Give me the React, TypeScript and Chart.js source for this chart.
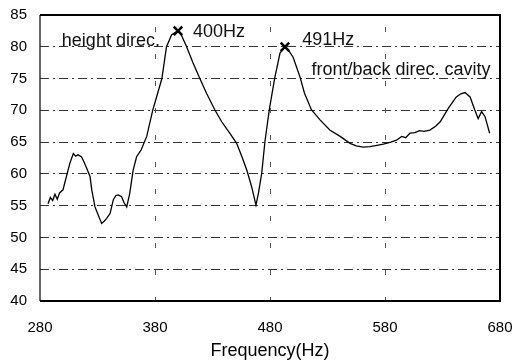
import React, { useEffect, useRef } from "react";
import { Chart, registerables } from "chart.js";

Chart.register(...registerables);

// Frequency response curve (Hz, value)
const freqHz: number[] = [
  287, 289, 291, 293, 295, 297, 300, 303, 306, 309, 311, 313, 316, 318, 320.6, 323.5, 325, 327.8,
  330.7, 333.6, 336, 338, 341, 343.7, 346, 348, 351, 353, 355.4, 358, 361, 364, 368, 372.8, 378,
  382, 386, 390, 394.5, 400, 403, 407.5, 413, 419, 425, 432, 438, 445, 451, 456, 460, 464, 467.8,
  470, 472.8, 475.6, 479.4, 484, 488.7, 493, 497, 500, 506, 510, 516, 523.5, 532, 541, 549.6, 555,
  561, 567, 573, 578.5, 585, 590, 594.5, 598, 601.7, 606, 610, 614, 619, 624, 628, 635, 642, 646,
  649.6, 654, 658, 661, 664, 667, 671,
];
const response: number[] = [
  55.3, 56.3, 55.8, 56.8, 56.0, 57.0, 57.5, 59.6, 61.7, 63.2, 62.8, 63.0, 62.7, 62.0, 60.9, 59.6, 57.5, 54.8,
  53.5, 52.2, 52.6, 53.0, 53.8, 55.9, 56.6, 56.7, 56.4, 55.5, 54.8, 56.9, 60.6, 62.7, 63.8, 65.9, 70.0,
  72.5, 75.0, 80.0, 81.9, 82.5, 81.8, 80.0, 77.5, 75.0, 72.6, 70.1, 68.2, 66.4, 64.8, 62.5, 60.5, 58.0, 55.1,
  57.0, 60.1, 65.1, 70.1, 75.0, 79.0, 80.0, 79.2, 78.4, 75.3, 72.7, 70.1, 68.5, 66.9, 65.9, 64.8, 64.4,
  64.2, 64.3, 64.5, 64.7, 65.0, 65.3, 65.9, 65.7, 66.4, 66.5, 66.8, 66.7, 66.9, 67.5, 68.2, 70.3, 72.1, 72.6,
  72.8, 72.1, 70.1, 68.7, 69.8, 69.0, 66.4,
];

// Peak markers
const peakHz: number[] = [400, 493];
const peakVal: number[] = [82.5, 80.0];

// Annotation texts and their anchor (data coordinates, left/baseline)
const annoText: string[] = ["height direc.", "400Hz", "491Hz", "front/back direc. cavity"];
const annoHz: number[] = [299, 413, 508, 516];
const annoVal: number[] = [80.1, 81.5, 80.3, 75.6];

const xTicks: number[] = [280, 380, 480, 580, 680];
const yTicks: number[] = [40, 45, 50, 55, 60, 65, 70, 75, 80, 85];
const xGridAt: number[] = [380, 480, 580];

const FONT = "'Liberation Sans', Arial, sans-serif";

const framePlugin = {
  id: "frame",
  beforeDatasetsDraw(chart: any) {
    const { ctx, chartArea: a, scales } = chart;
    ctx.save();
    // sparse vertical grid lines
    ctx.strokeStyle = "#555";
    ctx.lineWidth = 1;
    ctx.setLineDash([5, 22]);
    xGridAt.forEach((v) => {
      const x = Math.round(scales.x.getPixelForValue(v)) + 0.5;
      ctx.beginPath();
      ctx.moveTo(x, a.top + 12);
      ctx.lineTo(x, a.bottom);
      ctx.stroke();
    });
    ctx.setLineDash([]);
    ctx.strokeStyle = "#000";
    ctx.lineWidth = 2;
    ctx.beginPath();
    ctx.moveTo(a.left, a.top);
    ctx.lineTo(a.right, a.top);
    ctx.lineTo(a.right, a.bottom);
    ctx.lineTo(a.left, a.bottom);
    ctx.stroke();
    ctx.lineWidth = 1.2;
    ctx.beginPath();
    ctx.moveTo(a.left, a.top);
    ctx.lineTo(a.left, a.bottom);
    ctx.stroke();
    ctx.restore();
  },
};

const annoPlugin = {
  id: "annos",
  afterDatasetsDraw(chart: any) {
    const { ctx, scales } = chart;
    ctx.save();
    ctx.fillStyle = "#111";
    ctx.font = `18px ${FONT}`;
    ctx.textAlign = "left";
    ctx.textBaseline = "alphabetic";
    annoText.forEach((t, i) => {
      const x = scales.x.getPixelForValue(annoHz[i]);
      const y = scales.y.getPixelForValue(annoVal[i]);
      ctx.fillText(t, x, y);
    });
    ctx.restore();
  },
};

export default function App() {
  const ref = useRef<HTMLCanvasElement | null>(null);

  useEffect(() => {
    if (!ref.current) return;
    const chart = new Chart(ref.current, {
      type: "line",
      data: {
        datasets: [
          {
            data: freqHz.map((x, i) => ({ x, y: response[i] })),
            borderColor: "#000",
            borderWidth: 1.3,
            pointRadius: 0,
            tension: 0,
            fill: false,
          },
          {
            data: peakHz.map((x, i) => ({ x, y: peakVal[i] })),
            showLine: false,
            pointStyle: "crossRot",
            pointRadius: 6,
            borderColor: "#000",
            borderWidth: 2.5,
          },
        ],
      },
      options: {
        animation: false,
        responsive: true,
        maintainAspectRatio: false,
        layout: { padding: { left: 0, top: 15, right: 15, bottom: 0 } },
        plugins: { legend: { display: false }, tooltip: { enabled: false } },
        scales: {
          x: {
            type: "linear",
            min: 280,
            max: 680,
            afterBuildTicks: (s: any) => {
              s.ticks = xTicks.map((v) => ({ value: v }));
            },
            afterFit: (s: any) => {
              s.height = 62;
              s.paddingLeft = 0;
              s.paddingRight = 0;
            },
            ticks: { color: "#000", font: { family: FONT, size: 15 }, padding: 10, maxRotation: 0 },
            grid: { display: false },
            border: { display: false },
            title: {
              display: true,
              text: "Frequency(Hz)",
              color: "#000",
              font: { family: FONT, size: 18 },
              padding: { top: 0, bottom: 1 },
            },
          },
          y: {
            min: 40,
            max: 85,
            afterBuildTicks: (s: any) => {
              s.ticks = yTicks.map((v) => ({ value: v }));
            },
            afterFit: (s: any) => {
              s.width = 40;
              s.paddingTop = 0;
              s.paddingBottom = 0;
            },
            ticks: { color: "#000", font: { family: FONT, size: 15 }, padding: 13 },
            grid: {
              drawTicks: false,
              color: (c: any) => (c.tick?.value === 40 || c.tick?.value === 85 ? "rgba(0,0,0,0)" : "#333"),
              lineWidth: 1,
            },
            border: { display: false, dash: [9, 4, 2, 4] },
          },
        },
      },
      plugins: [framePlugin, annoPlugin],
    });
    return () => chart.destroy();
  }, []);

  return (
    <div style={{ position: "absolute", left: 0, top: 0, width: 515, height: 363, background: "#fff" }}>
      <canvas ref={ref} />
    </div>
  );
}
